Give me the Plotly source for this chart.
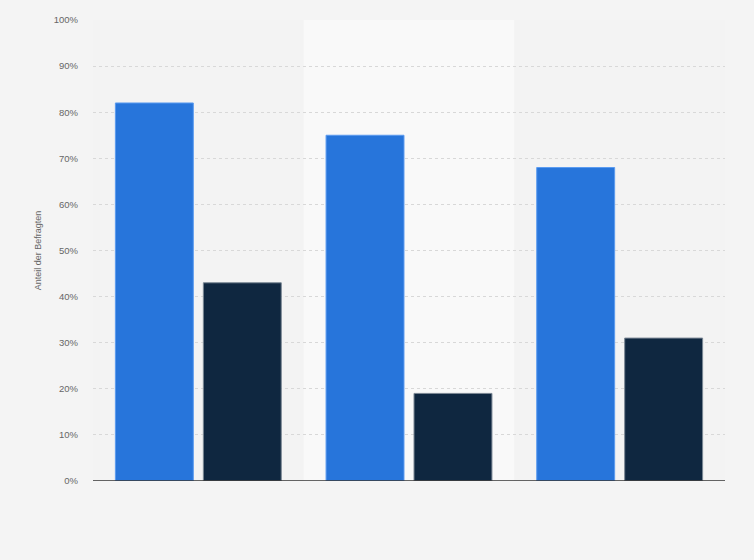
import plotly.graph_objects as go

categories = ["A", "B", "C"]
series_1 = [82, 75, 68]
series_2 = [43, 19, 31]
y_ticks = [0, 10, 20, 30, 40, 50, 60, 70, 80, 90, 100]
y_tick_labels = [f"{v}%" for v in y_ticks]

BLUE = "#2775db"
NAVY = "#0f2740"

fig = go.Figure()
fig.add_trace(go.Bar(
    x=categories, y=series_1, name="Serie 1",
    marker=dict(color=BLUE, line=dict(color="#5b9bf0", width=1)),
))
fig.add_trace(go.Bar(
    x=categories, y=series_2, name="Serie 2",
    marker=dict(color=NAVY, line=dict(color="#7a8794", width=1)),
))

# alternating column bands
shapes = []
for i, _ in enumerate(categories):
    shapes.append(dict(
        type="rect", xref="x", yref="paper", x0=i - 0.5, x1=i + 0.5, y0=0, y1=1,
        fillcolor="#f9f9f9" if i % 2 else "#f3f3f3", line=dict(width=0), layer="below",
    ))

fig.update_layout(
    width=754, height=560,
    paper_bgcolor="#f4f4f4", plot_bgcolor="#f3f3f3",
    margin=dict(l=93, r=29, t=20, b=79),
    barmode="group", bargap=0.165, bargroupgap=0.114,
    showlegend=False,
    shapes=shapes,
    font=dict(family="Liberation Sans, Arial, sans-serif", color="#666666"),
    xaxis=dict(showticklabels=False, showgrid=False, zeroline=False,
               range=[-0.5, len(categories) - 0.5], fixedrange=True),
    yaxis=dict(
        range=[0, 100], tickvals=y_ticks, ticktext=y_tick_labels,
        tickfont=dict(size=9.5, color="#666666"),
        showgrid=True, gridcolor="#d8d8d8", griddash="dot", gridwidth=1,
        zeroline=False, showline=False, ticks="", ticklabelstandoff=14,
        title=dict(text="Anteil der Befragten", font=dict(size=9, color="#666666"), standoff=10),
    ),
)
fig.add_hline(y=0, line=dict(color="#333333", width=1.5))

fig.write_html(
    "out.html",
    config={"displayModeBar": False},
    post_script="document.body.style.margin='0';document.body.style.background='#f4f4f4';",
)
